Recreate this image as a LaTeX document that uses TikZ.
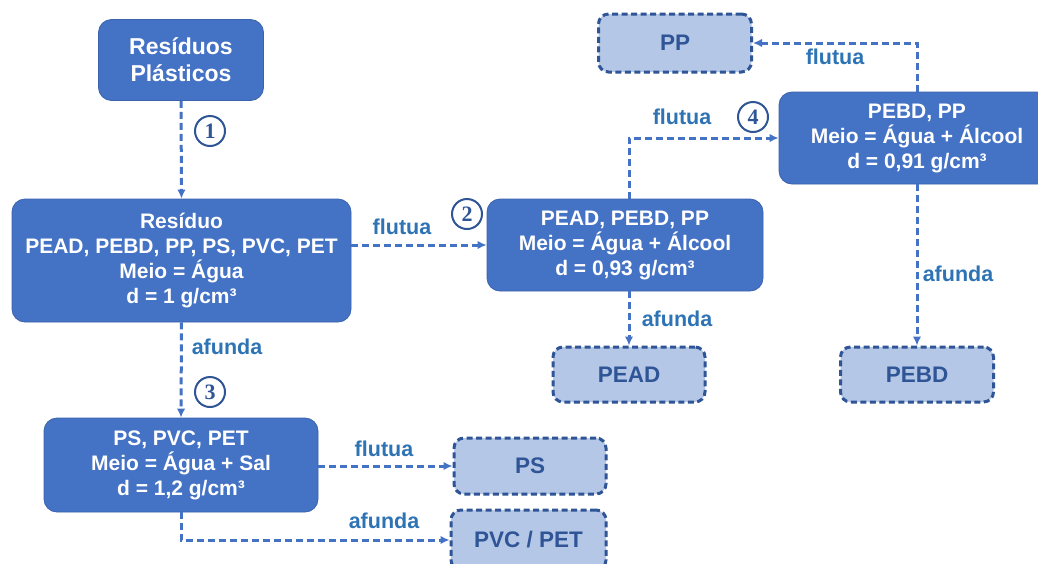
\documentclass[tikz,border=0pt]{standalone}
\usepackage{fontspec}
\setmainfont{Liberation Sans}
\newfontfamily\numfont{Liberation Serif}
\usetikzlibrary{arrows.meta}
\definecolor{boxblue}{HTML}{4472C4}
\definecolor{boxedge}{HTML}{3A63AD}
\definecolor{paleblue}{HTML}{B4C7E7}
\definecolor{deepblue}{HTML}{2F5597}
\definecolor{labelblue}{HTML}{2E74B5}
\tikzset{
  stage/.style={draw=boxedge, line width=0.8pt, fill=boxblue, rounded corners=13pt,
    text=white, font=\bfseries\fontsize{21}{25}\selectfont, align=center, inner sep=0pt},
  product/.style={draw=deepblue, line width=3pt, dash pattern=on 6pt off 3.5pt,
    fill=paleblue, rounded corners=10pt, text=deepblue,
    font=\bfseries\fontsize{22.5}{25}\selectfont, align=center, inner sep=0pt},
  flow/.style={draw=boxblue, line width=3pt, dash pattern=on 7pt off 4pt,
    -{Latex[length=9pt,width=8.5pt]}},
  tag/.style={text=labelblue, font=\bfseries\fontsize{21.5}{24}\selectfont, inner sep=0pt},
  stepnum/.style={circle, draw=deepblue, line width=2pt, minimum size=30pt, inner sep=0pt,
    text=deepblue, font=\numfont\bfseries\fontsize{22}{22}\selectfont}
}
\begin{document}
\begin{tikzpicture}[x=1pt, y=-1pt]
\fill[white] (0,0) rectangle (1038,563);
\useasboundingbox (0,0) rectangle (1038,563);
\clip (0,0) rectangle (1038,563);

% processing stages
\node[stage, minimum width=165pt, minimum height=81pt, font=\bfseries\fontsize{23}{27}\selectfont]
  (top) at (181,60) {Resíduos\\Plásticos};
\node[stage, minimum width=339pt, minimum height=123pt] (res) at (181.5,260.5)
  {Resíduo\\PEAD, PEBD, PP, PS, PVC, PET\\Meio = Água\\d = 1 g/cm³};
\node[stage, minimum width=276pt, minimum height=92pt] (mid) at (625,245)
  {PEAD, PEBD, PP\\Meio = Água + Álcool\\d = 0,93 g/cm³};
\node[stage, minimum width=276pt, minimum height=92pt] (light) at (917,138)
  {PEBD, PP\\Meio = Água + Álcool\\d = 0,91 g/cm³};
\node[stage, minimum width=274pt, minimum height=94pt] (heavy) at (181,465)
  {PS, PVC, PET\\Meio = Água + Sal\\d = 1,2 g/cm³};

% separated products
\node[product, minimum width=153pt, minimum height=58pt] (pp) at (675,43) {PP};
\node[product, minimum width=152pt, minimum height=55pt] (pead) at (629,374.5) {PEAD};
\node[product, minimum width=153pt, minimum height=55pt] (pebd) at (917,374.5) {PEBD};
\node[product, minimum width=152pt, minimum height=56pt] (ps) at (530,466) {PS};
\node[product, minimum width=155pt, minimum height=60pt] (pvcpet) at (528.5,540) {PVC / PET};

% connectors
\draw[flow] (top.south) -- (res.north);
\draw[flow] (mid.west -| res.east) -- (mid.west);
\draw[flow] (mid.south -| pead.north) -- (pead.north);
\draw[flow] (mid.north -| pead.north) |- (light.west);
\draw[flow] (light.north) |- (pp.east);
\draw[flow] (light.south -| pebd.north) -- (pebd.north);
\draw[flow] (res.south) -- (heavy.north);
\draw[flow] (ps.west -| heavy.east) -- (ps.west);
\draw[flow] (heavy.south) |- (pvcpet.west);

% connector labels
\node[tag] (t1) at (402,227) {flutua};
\node[tag] (t2) at (227,347) {afunda};
\node[tag] (t3) at (677,319) {afunda};
\node[tag] (t4) at (682,117) {flutua};
\node[tag] (t5) at (835,57) {flutua};
\node[tag] (t6) at (958,274) {afunda};
\node[tag] (t7) at (384,449) {flutua};
\node[tag] (t8) at (384,521) {afunda};

% step numbers
\node[stepnum] (s1) at (210,131) {1};
\node[stepnum] (s2) at (467,214) {2};
\node[stepnum] (s3) at (210,392) {3};
\node[stepnum] (s4) at (753,117) {4};
\end{tikzpicture}
\end{document}
